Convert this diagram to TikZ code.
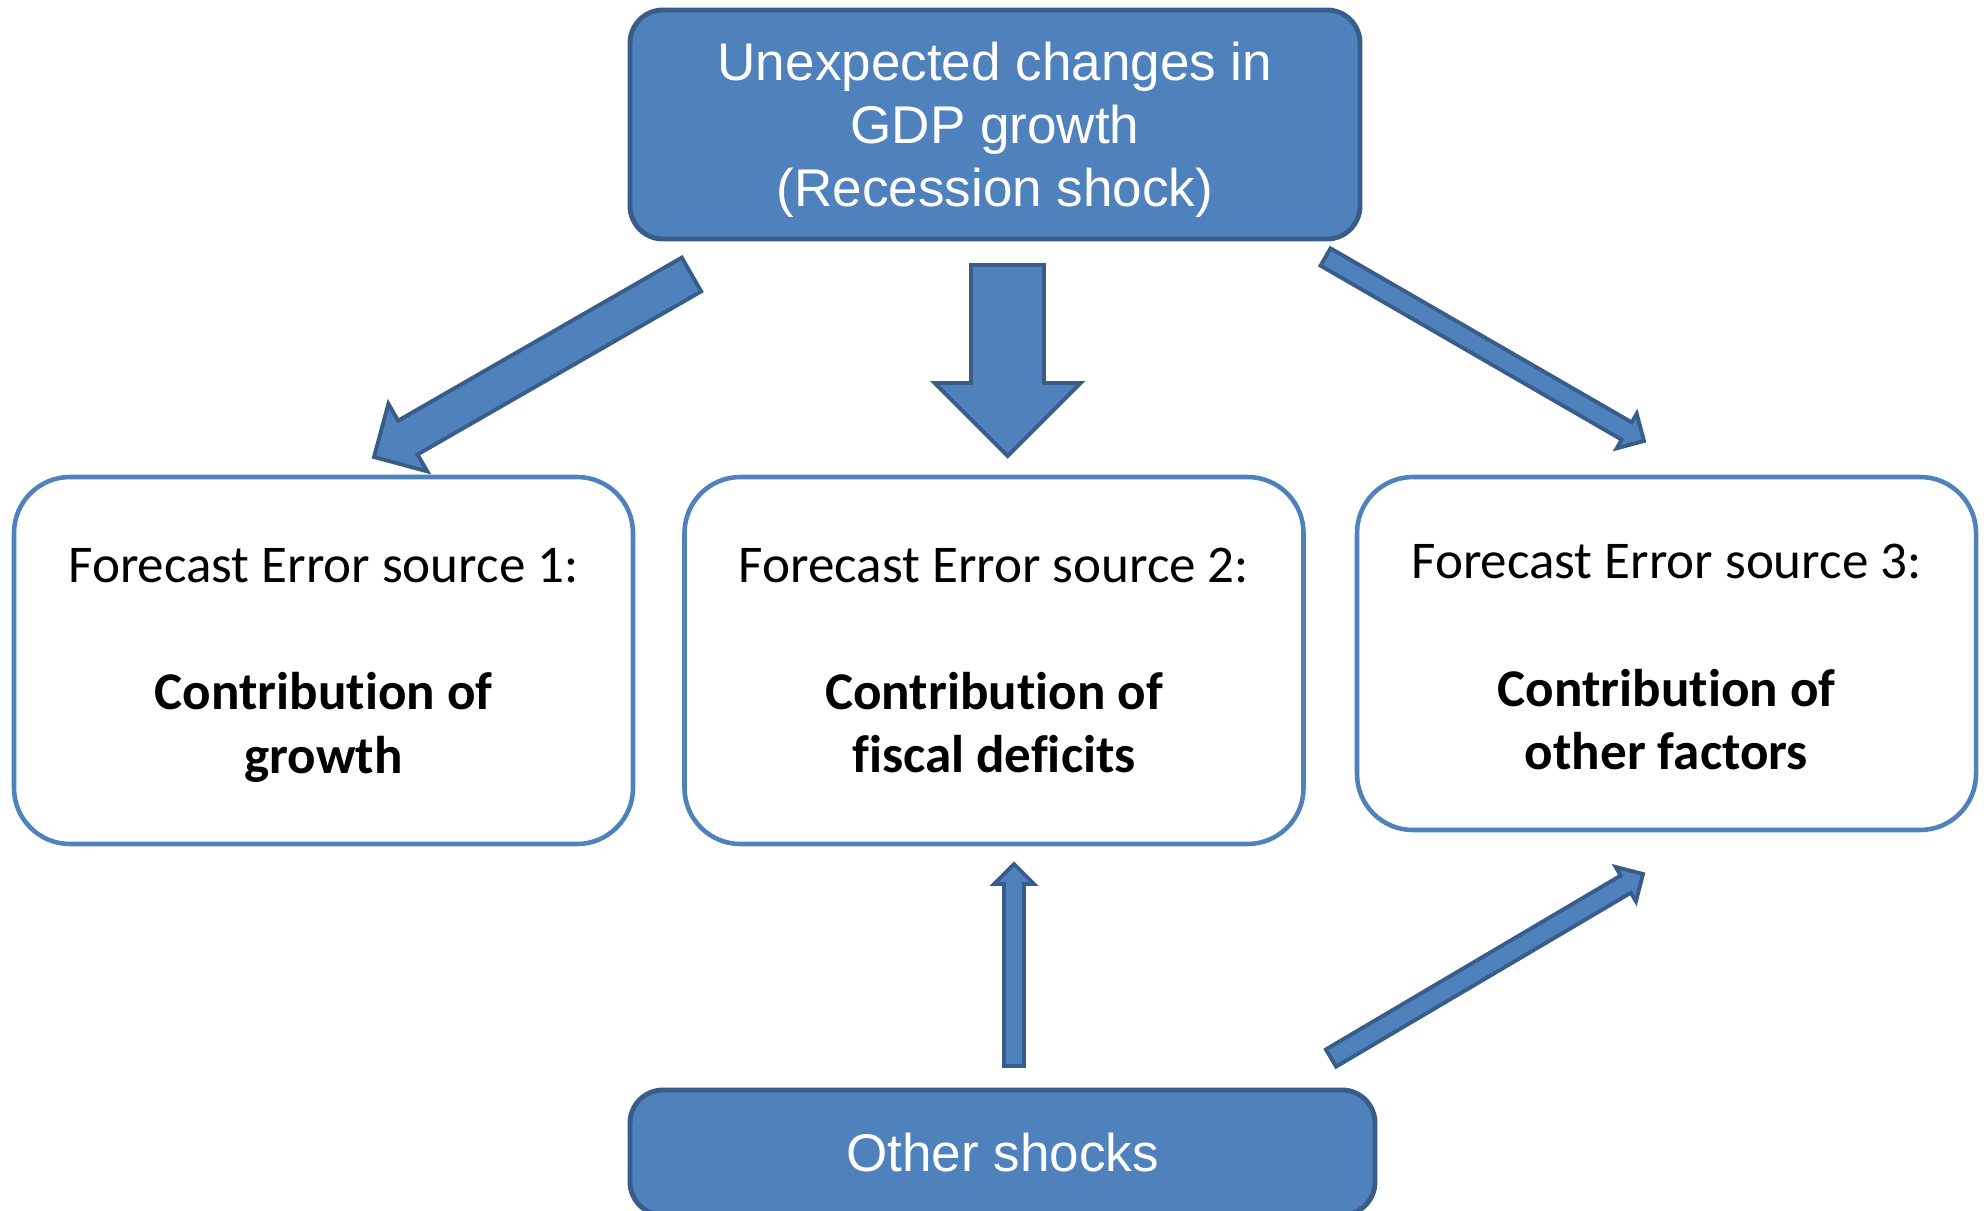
\documentclass[tikz,border=0pt]{standalone}
\usepackage{fontspec}
\setmainfont[Ligatures=NoCommon]{Carlito}
\newfontfamily\arialfont{Liberation Sans}
\usetikzlibrary{calc}

\definecolor{boxblue}{HTML}{4F81BD}
\definecolor{boxedge}{HTML}{385D8A}

\newcommand{\blockarrow}[3]{%
  \coordinate (neck) at ($(#2)!2*#3!(#1)$);
  \draw[blockarr] ($(#1)!#3!90:(#2)$) -- ($(neck)!#3!90:(#2)$)
    -- ($(neck)!2*#3!90:(#2)$) -- (#2) -- ($(neck)!2*#3!-90:(#2)$)
    -- ($(neck)!#3!-90:(#2)$) -- ($(#1)!#3!-90:(#2)$) -- cycle;
}

\begin{document}
\begin{tikzpicture}[blockarr/.style={draw=boxedge,fill=boxblue,line width=1.1pt}]

        \useasboundingbox (0,0) rectangle (19.87,-12.10);

        \begin{scope}[every node/.style={draw=boxedge,fill=boxblue,line width=1.4pt,rounded corners=0.33cm,
            text=white,align=center,font=\arialfont\fontsize{15.1}{17.9}\selectfont}]
          \node[minimum width=7.30cm,minimum height=2.29cm] (shock) at (9.95,-1.245)
            {Unexpected changes in\\GDP growth\\\smash{(Recession shock)}};
          \node[minimum width=7.45cm,minimum height=1.25cm] (other) at (10.025,-11.525) {Other shocks};
        \end{scope}

        \begin{scope}[every node/.style={draw=boxblue,fill=white,line width=1.3pt,rounded corners=0.56cm,
            minimum width=6.19cm,align=center,font=\fontsize{15.1}{18.1}\selectfont}]
          \node[minimum height=3.67cm] (src1) at (3.235,-6.605)
            {Forecast Error source 1:\\[18.1pt]\textbf{Contribution of}\\\smash{\textbf{growth}}};
          \node[minimum height=3.67cm] (src2) at (9.94,-6.605)
            {Forecast Error source 2:\\[18.1pt]\textbf{Contribution of}\\\textbf{fiscal deficits}};
          \node[minimum height=3.53cm] (src3) at (16.665,-6.535)
            {\rule{0pt}{12pt}Forecast Error source 3:\\[18.1pt]\textbf{Contribution of}\\\textbf{other factors}};
        \end{scope}

        \coordinate (t1) at (6.915,-2.745);  \coordinate (h1) at (3.74,-4.57);
        \coordinate (t2) at (10.075,-2.65);  \coordinate (h2) at (10.075,-4.56);
        \coordinate (t3) at (13.255,-2.57);  \coordinate (h3) at (16.44,-4.41);
        \coordinate (t4) at (10.14,-10.66);  \coordinate (h4) at (10.14,-8.64);
        \coordinate (t5) at (13.31,-10.58);  \coordinate (h5) at (16.43,-8.74);

        \blockarrow{t1}{h1}{0.195cm}
        \blockarrow{t2}{h2}{0.365cm}
        \blockarrow{t3}{h3}{0.1cm}
        \blockarrow{t4}{h4}{0.1cm}
        \blockarrow{t5}{h5}{0.1cm}

      \end{tikzpicture}
\end{document}
